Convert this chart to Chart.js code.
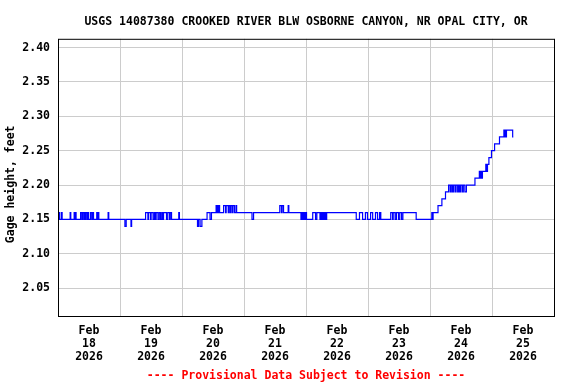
<!DOCTYPE html>
<html><head><meta charset="utf-8">
<script src="https://cdn.jsdelivr.net/npm/chart.js@4.4.1/dist/chart.umd.min.js"></script>
<style>html,body{margin:0;padding:0;background:#fff;overflow:hidden}canvas{display:block}</style>
</head><body>
<canvas id="c" width="576" height="384" style="width:576px;height:384px"></canvas>
<script>
const titleText = 'USGS 14087380 CROOKED RIVER BLW OSBORNE CANYON, NR OPAL CITY, OR';
const footerText = '---- Provisional Data Subject to Revision ----';
const yAxisLabel = 'Gage height, feet';
const monthLabel = 'Feb';
const yearLabel = '2026';
const dayLabels = ['18', '19', '20', '21', '22', '23', '24', '25'];
const yTickValues = [2.05, 2.10, 2.15, 2.20, 2.25, 2.30, 2.35, 2.40];

// hours since Feb 18 2026 00:00, value takes effect at that time
const hours = [
  0, 0.4, 0.65, 1.35, 1.6, 4.7, 4.95, 6.25, 6.5, 6.75,
  7.0, 8.75, 9.25, 9.5, 10.0, 10.25, 10.5, 10.9, 11.4, 11.6,
  11.85, 12.6, 13.1, 13.5, 13.75, 15.0, 15.25, 15.5, 15.8, 19.4,
  19.65, 25.9, 26.4, 28.25, 28.5, 33.9, 34.8, 35.05, 35.8, 36.05,
  36.8, 37.3, 37.75, 38.0, 38.7, 39.2, 39.7, 40.2, 40.6, 40.85,
  42.0, 42.5, 43.2, 43.45, 43.95, 46.75, 47.0, 54.0, 54.4, 55.0,
  55.7, 57.7, 58.85, 59.4, 61.2, 61.45, 61.75, 62.0, 62.3, 62.55,
  64.1, 64.85, 65.1, 65.9, 66.15, 66.65, 66.9, 67.45, 67.7, 68.3,
  68.9, 69.15, 75.1, 75.7, 85.85, 86.5, 86.75, 87.3, 89.1, 89.35,
  94.05, 94.3, 94.65, 95.1, 95.45, 95.9, 96.2, 98.6, 99.7, 100.2,
  101.4, 101.65, 102.0, 102.25, 102.6, 102.85, 103.15, 103.4, 103.75, 104.0,
  115.45, 116.7, 117.9, 119.0, 119.8, 121.0, 121.8, 122.9, 123.7, 124.5,
  124.95, 128.8, 129.5, 129.75, 130.5, 131.0, 131.8, 132.3, 133.0, 133.5,
  138.65, 144.7, 145.0, 145.2, 147.1, 148.6, 150.0, 151.2, 151.8, 152.2,
  152.7, 153.1, 153.7, 154.1, 154.7, 155.1, 155.5, 155.9, 156.5, 156.9,
  157.5, 158.1, 161.4, 163.1, 163.5, 163.8, 164.0, 164.3, 165.6, 166.0,
  166.25, 166.8, 167.8, 169.0, 170.9, 172.6, 172.8, 173.0, 173.2, 173.6,
  176.0, 176.25
];
const gageHeight = [
  2.15, 2.16, 2.15, 2.16, 2.15, 2.16, 2.15, 2.16, 2.15, 2.16,
  2.15, 2.16, 2.15, 2.16, 2.15, 2.16, 2.15, 2.16, 2.15, 2.16,
  2.15, 2.16, 2.15, 2.16, 2.15, 2.16, 2.15, 2.16, 2.15, 2.16,
  2.15, 2.14, 2.15, 2.14, 2.15, 2.16, 2.15, 2.16, 2.15, 2.16,
  2.15, 2.16, 2.15, 2.16, 2.15, 2.16, 2.15, 2.16, 2.15, 2.16,
  2.15, 2.16, 2.15, 2.16, 2.15, 2.16, 2.15, 2.14, 2.15, 2.14,
  2.15, 2.16, 2.15, 2.16, 2.17, 2.16, 2.17, 2.16, 2.17, 2.16,
  2.17, 2.16, 2.17, 2.16, 2.17, 2.16, 2.17, 2.16, 2.17, 2.16,
  2.17, 2.16, 2.15, 2.16, 2.17, 2.16, 2.17, 2.16, 2.17, 2.16,
  2.15, 2.16, 2.15, 2.16, 2.15, 2.16, 2.15, 2.16, 2.15, 2.16,
  2.15, 2.16, 2.15, 2.16, 2.15, 2.16, 2.15, 2.16, 2.15, 2.16,
  2.15, 2.16, 2.15, 2.16, 2.15, 2.16, 2.15, 2.16, 2.15, 2.16,
  2.15, 2.16, 2.15, 2.16, 2.15, 2.16, 2.15, 2.16, 2.15, 2.16,
  2.15, 2.16, 2.15, 2.16, 2.17, 2.18, 2.19, 2.20, 2.19, 2.20,
  2.19, 2.20, 2.19, 2.20, 2.19, 2.20, 2.19, 2.20, 2.19, 2.20,
  2.19, 2.20, 2.21, 2.22, 2.21, 2.22, 2.21, 2.22, 2.23, 2.22,
  2.23, 2.24, 2.25, 2.26, 2.27, 2.28, 2.27, 2.28, 2.27, 2.28,
  2.27, 2.27
];

const FONT = "'DejaVu Sans Mono', monospace";

const frame = {
  id: 'frame',
  afterDraw(chart) {
    const a = chart.chartArea, ctx = chart.ctx;
    ctx.save();
    ctx.strokeStyle = '#000';
    ctx.lineWidth = 1;
    ctx.strokeRect(a.left + 0.5, a.top + 0.5, a.right - a.left, a.bottom - a.top);
    ctx.restore();
  }
};

new Chart(document.getElementById('c'), {
  type: 'line',
  data: {
    datasets: [{
      data: hours.map((h, i) => ({ x: h, y: gageHeight[i] })),
      borderColor: '#0000ff',
      borderWidth: 1.2,
      pointRadius: 0,
      stepped: 'before',
      fill: false
    }]
  },
  options: {
    responsive: false,
    animation: false,
    layout: { padding: { top: 0, left: 0, right: 22, bottom: 0 } },
    plugins: {
      legend: { display: false },
      tooltip: { enabled: false },
      title: {
        display: true, text: titleText, color: '#000', fullSize: false,
        font: { family: FONT, size: 11.5, weight: 'bold', lineHeight: 1.2 },
        padding: { top: 15, bottom: 10 }
      },
      subtitle: {
        display: true, text: footerText, color: '#ff0000', position: 'bottom', fullSize: false,
        font: { family: FONT, size: 11.5, weight: 'bold', lineHeight: 1.2 },
        padding: { top: 8.1, bottom: 1.1 }
      }
    },
    scales: {
      x: {
        type: 'linear', min: 0, max: 192,
        border: { display: false },
        grid: {
          drawTicks: false,
          color: (c) => (c.tick && c.tick.value % 24 === 0) ? '#cccccc' : 'rgba(0,0,0,0)'
        },
        ticks: {
          stepSize: 12, autoSkip: false, maxRotation: 0, minRotation: 0,
          padding: 7.9, color: '#000',
          font: { family: FONT, size: 11.5, weight: 'bold', lineHeight: 1.157 },
          callback: (v) => {
            if (v % 24 !== 12) return '';
            const d = dayLabels[(v - 12) / 24];
            return d ? [monthLabel, d, yearLabel] : '';
          }
        },
        afterFit: (s) => { s.height = 45; }
      },
      y: {
        min: 2.0095, max: 2.4128,
        border: { display: false },
        grid: { drawTicks: false, color: '#cccccc' },
        afterBuildTicks: (s) => { s.ticks = yTickValues.map(v => ({ value: v })); },
        ticks: {
          padding: 8, color: '#000',
          font: { family: FONT, size: 11.5, weight: 'bold' },
          callback: (v) => Number(v).toFixed(2)
        },
        title: {
          display: true, text: yAxisLabel + '  ', color: '#000',
          font: { family: FONT, size: 11.5, weight: 'bold', lineHeight: 1.2 },
          padding: { top: 4.6, bottom: 0 }
        },
        afterFit: (s) => { s.width = 58; }
      }
    }
  },
  plugins: [frame]
});
</script>
</body></html>
